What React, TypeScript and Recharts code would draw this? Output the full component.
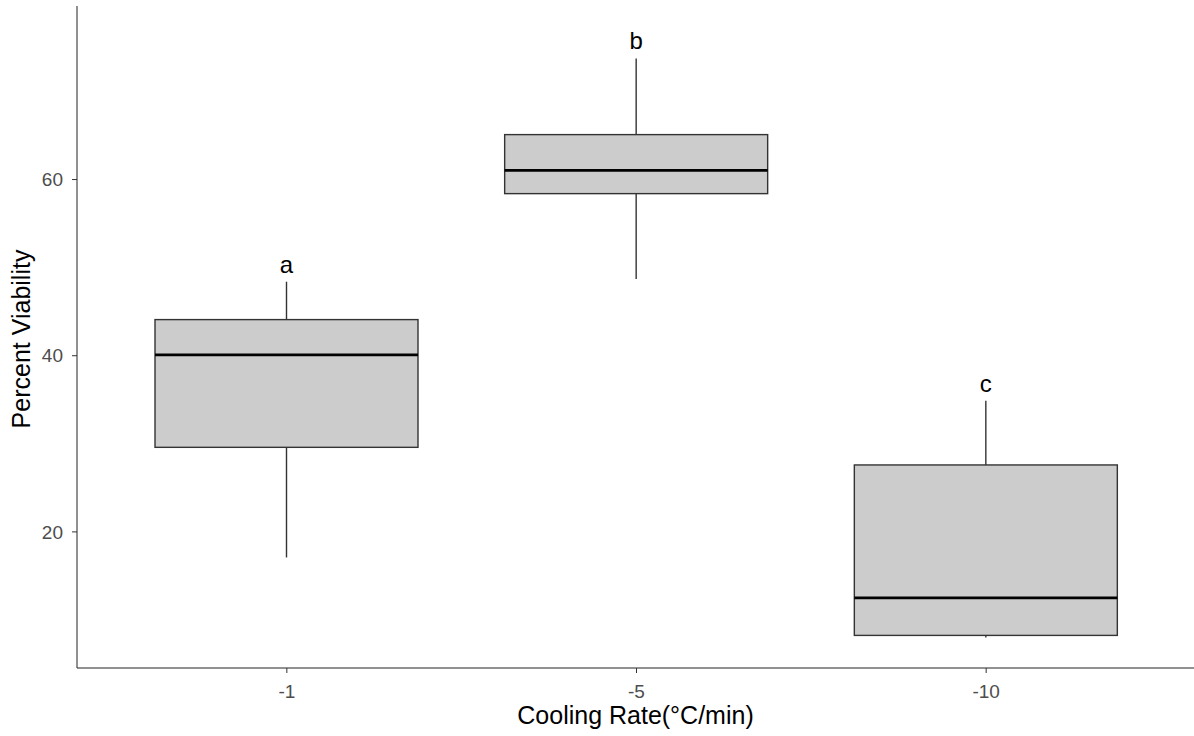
import { ComposedChart, Bar, XAxis, YAxis } from 'recharts'

const categories = ['-1', '-5', '-10']
const whiskerLow = [17.1, 48.7, 8.0]
const quartile1 = [29.6, 58.4, 8.25]
const medians = [40.1, 61.05, 12.5]
const quartile3 = [44.1, 65.1, 27.6]
const whiskerHigh = [48.4, 73.75, 34.9]
const groupLetters = ['a', 'b', 'c']
const yTicks = [20, 40, 60]

const FONT = '"Liberation Sans", Arial, sans-serif'

const data = categories.map((name, i) => ({
  name,
  min: whiskerLow[i],
  q1: quartile1[i],
  median: medians[i],
  q3: quartile3[i],
  max: whiskerHigh[i],
  letter: groupLetters[i],
}))

// range bar spans [min, max]; inner parts placed on the same linear scale
const BoxShape = (props: any) => {
  const { x, y, width, height, payload } = props
  const { min, max, q1, q3, median, letter } = payload
  const toY = (v: number) => y + (height * (max - v)) / (max - min)
  const cx = x + width / 2
  return (
    <g>
      <line x1={cx} x2={cx} y1={toY(max)} y2={toY(q3)} stroke="#333333" strokeWidth={1.4} />
      <line x1={cx} x2={cx} y1={toY(q1)} y2={toY(min)} stroke="#333333" strokeWidth={1.4} />
      <rect x={x} y={toY(q3)} width={width} height={toY(q1) - toY(q3)} fill="#CCCCCC" stroke="#333333" strokeWidth={1.4} />
      <line x1={x} x2={x + width} y1={toY(median)} y2={toY(median)} stroke="#000000" strokeWidth={2.8} />
      <text x={cx} y={toY(max) - 9} textAnchor="middle" fontFamily={FONT} fontSize={24} fill="#000">
        {letter}
      </text>
    </g>
  )
}

export default function App() {
  return (
    <div style={{ position: 'absolute', left: 0, top: 0, background: '#fff' }}>
      <ComposedChart width={1194} height={736} data={data} margin={{ top: 6, right: 0, bottom: 0, left: 0 }}>
        <XAxis
          dataKey="name"
          height={68}
          padding={{ left: 35, right: 33 }}
          stroke="#222"
          tickSize={5}
          tickMargin={12}
          tickLine={{ stroke: '#333333' }}
          tick={{ fill: '#4D4D4D', fontSize: 19, fontFamily: FONT }}
          label={{
            content: (p: any) => {
              const vb = p.viewBox
              return (
                <text x={vb.x + vb.width / 2} y={vb.y + 56} textAnchor="middle" fontFamily={FONT} fontSize={25} fill="#000">
                  Cooling Rate(°C/min)
                </text>
              )
            },
          }}
        />
        <YAxis
          type="number"
          domain={[4.55, 79.7]}
          ticks={yTicks}
          allowDataOverflow
          width={77}
          stroke="#222"
          tickSize={5}
          tickMargin={9}
          tickLine={{ stroke: '#333333' }}
          tick={{ fill: '#4D4D4D', fontSize: 19, fontFamily: FONT }}
          label={{
            content: (p: any) => {
              const vb = p.viewBox
              const lx = vb.x + 30
              const ly = vb.y + vb.height / 2 + 2
              return (
                <text x={lx} y={ly} transform={`rotate(-90 ${lx} ${ly})`} textAnchor="middle" fontFamily={FONT} fontSize={25} fill="#000">
                  Percent Viability
                </text>
              )
            },
          }}
        />
        <Bar dataKey={(d: any) => [d.min, d.max]} barSize={263} shape={BoxShape} isAnimationActive={false} />
      </ComposedChart>
    </div>
  )
}
